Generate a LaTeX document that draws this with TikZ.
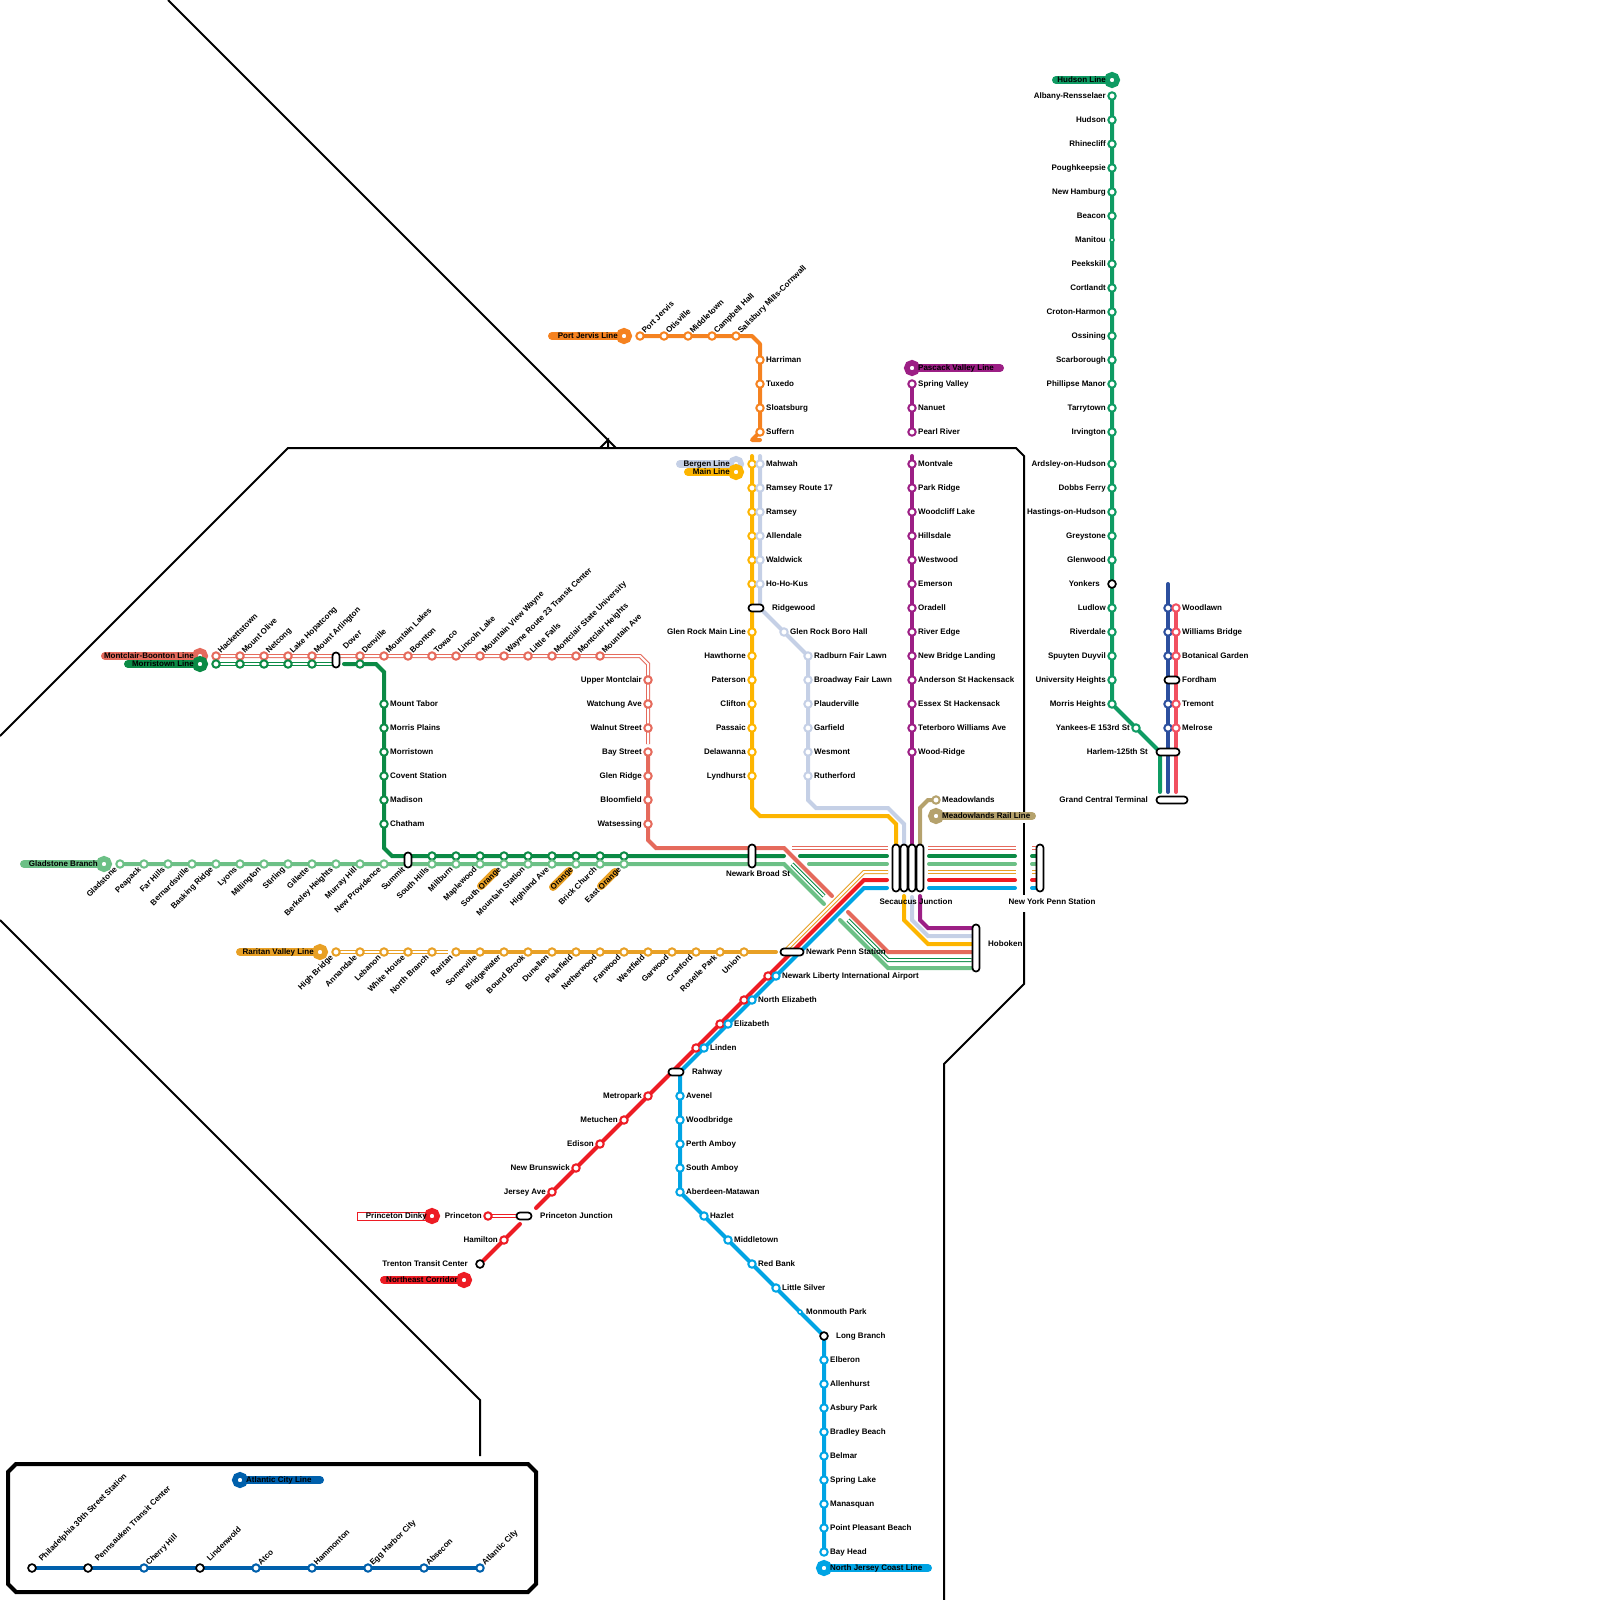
\documentclass[tikz,border=0pt]{standalone}
\usepackage{fontspec}
\setmainfont{Liberation Sans}
\pgfdeclarelayer{lines}
\pgfsetlayers{lines,main}
\definecolor{chud}{HTML}{0F9B63}
\definecolor{cmorr}{HTML}{0B8A45}
\definecolor{cglad}{HTML}{6CC086}
\definecolor{ccor}{HTML}{E56A5C}
\definecolor{crar}{HTML}{E8A025}
\definecolor{cpj}{HTML}{F58220}
\definecolor{cmain}{HTML}{FDB500}
\definecolor{cberg}{HTML}{C5D0E6}
\definecolor{cpas}{HTML}{9C1F85}
\definecolor{cmead}{HTML}{B5A26D}
\definecolor{cnec}{HTML}{ED1C24}
\definecolor{cnjc}{HTML}{00A4E4}
\definecolor{charl}{HTML}{2C4F9E}
\definecolor{cnh}{HTML}{F15060}
\definecolor{cac}{HTML}{0060AC}
\tikzset{
 sta/.style={circle,draw=#1,fill=white,line width=2pt,minimum size=7.4pt,inner sep=0pt},
 blk/.style={circle,draw=black,fill=white,line width=1.7pt,minimum size=7.8pt,inner sep=0pt},
 small/.style={circle,draw=#1,fill=white,line width=1.5pt,minimum size=4pt,inner sep=0pt},
 term/.style={circle,draw=#1,fill=white,line width=5.5pt,minimum size=10.5pt,inner sep=0pt},
 ic/.style={draw=black,fill=white,line width=1.7pt,rounded corners=3.3pt,inner sep=0pt,minimum width=#1},
 lab/.style={font=\fontsize{8}{9}\selectfont\bfseries,inner sep=0pt,text height=5.8pt,text depth=0pt,text=black,yshift=-0.8pt},
 labR/.style={lab,anchor=west},
 labL/.style={lab,anchor=east},
 labU/.style={lab,anchor=west,rotate=45},
 labD/.style={lab,anchor=east,rotate=45},
 ln/.style={draw=#1,line width=4pt,line cap=round},
 tag/.style={draw=#1,line width=8pt,line cap=round},
 dbl/.style={draw=#1,line width=1pt,double=white,double distance=2pt},
 river/.style={draw=black,line width=2pt},
}
\begin{document}
\begin{tikzpicture}[x=1pt,y=-1pt]
\useasboundingbox (0,0) rectangle (1600,1600);

% ---- Hudson
\node[term=chud] (hudT) at (1112,80) {};
\node[labL] (hudTl) at (1106,79) {Hudson Line};
\foreach \y/\t in {96/Albany-Rensselaer,120/Hudson,144/Rhinecliff,168/Poughkeepsie,192/New Hamburg,216/Beacon,264/Peekskill,288/Cortlandt,312/Croton-Harmon,336/Ossining,360/Scarborough,384/Phillipse Manor,408/Tarrytown,432/Irvington,464/Ardsley-on-Hudson,488/Dobbs Ferry,512/Hastings-on-Hudson,536/Greystone,560/Glenwood,608/Ludlow,632/Riverdale,656/Spuyten Duyvil,680/University Heights,704/Morris Heights}
 {\node[sta=chud] (hud\y) at (1112,\y) {}; \node[labL] (hudl\y) at (1106,\y-1) {\t};}
\node[small=chud] (hud240) at (1112,240) {};
\node[labL] (hudl240) at (1106,239) {Manitou};
\node[blk] (hud584) at (1112,584) {};
\node[labL] (hudl584) at (1100,583) {Yonkers};
\node[sta=chud] (yank) at (1136,728) {};
\node[labL] (yankl) at (1130,727) {Yankees-E 153rd St};

% ---- Harlem / New Haven
\foreach \y/\t in {608/Woodlawn,632/Williams Bridge,656/Botanical Garden,704/Tremont,728/Melrose}
 {\node[sta=charl] (har\y) at (1168,\y) {}; \node[sta=cnh] (nh\y) at (1176,\y) {}; \node[labR] (nhl\y) at (1182,\y-1) {\t};}
\node[ic=15pt,minimum height=7pt] (fordham) at (1172,680) {};
\node[labR] (fordhaml) at (1182,679) {Fordham};
\node[ic=23pt,minimum height=7pt] (harlem) at (1168,752) {};
\node[labL] (harleml) at (1148,751) {Harlem-125th St};
\node[ic=31pt,minimum height=7pt] (gct) at (1172,800) {};
\node[labL] (gctl) at (1148,799) {Grand Central Terminal};

% ---- Port Jervis
\node[term=cpj] (pjT) at (624,336) {};
\node[labL] (pjTl) at (618,335) {Port Jervis Line};
\foreach \x/\t in {640/Port Jervis,664/Otisville,688/Middletown,712/Campbell Hall,736/Salisbury Mills-Cornwall}
 {\node[sta=cpj] (pj\x) at (\x,336) {}; \node[labU] (pjl\x) at (\x+3,331.2) {\t};}
\foreach \y/\t in {360/Harriman,384/Tuxedo,408/Sloatsburg,432/Suffern}
 {\node[sta=cpj] (pj\y) at (760,\y) {}; \node[labR] (pjl\y) at (766,\y-1) {\t};}

% ---- Main / Bergen
\node[term=cberg] (bergT) at (736,464) {};
\node[labL] (bergTl) at (730,463) {Bergen Line};
\node[term=cmain] (mainT) at (736,472) {};
\node[labL] (mainTl) at (730,471) {Main Line};
\foreach \y/\t in {464/Mahwah,488/Ramsey Route 17,512/Ramsey,536/Allendale,560/Waldwick,584/Ho-Ho-Kus}
 {\node[sta=cmain] (main\y) at (752,\y) {}; \node[sta=cberg] (berg\y) at (760,\y) {}; \node[labR] (bergl\y) at (766,\y-1) {\t};}
\node[ic=15pt,minimum height=7pt] (ridge) at (756,608) {};
\node[labR] (ridgel) at (772,607) {Ridgewood};
\foreach \y/\t in {632/Glen Rock Main Line,656/Hawthorne,680/Paterson,704/Clifton,728/Passaic,752/Delawanna,776/Lyndhurst}
 {\node[sta=cmain] (main\y) at (752,\y) {}; \node[labL] (mainl\y) at (746,\y-1) {\t};}
\node[sta=cberg] (berg632) at (784,632) {};
\node[labR] (bergl632) at (790,631) {Glen Rock Boro Hall};
\foreach \y/\t in {656/Radburn Fair Lawn,680/Broadway Fair Lawn,704/Plauderville,728/Garfield,752/Wesmont,776/Rutherford}
 {\node[sta=cberg] (berg\y) at (808,\y) {}; \node[labR] (bergl\y) at (814,\y-1) {\t};}

% ---- Pascack
\node[term=cpas] (pasT) at (912,368) {};
\node[labR] (pasTl) at (918,367) {Pascack Valley Line};
\foreach \y/\t in {384/Spring Valley,408/Nanuet,432/Pearl River,464/Montvale,488/Park Ridge,512/Woodcliff Lake,536/Hillsdale,560/Westwood,584/Emerson,608/Oradell,632/River Edge,656/New Bridge Landing,680/Anderson St Hackensack,704/Essex St Hackensack,728/Teterboro Williams Ave,752/Wood-Ridge}
 {\node[sta=cpas] (pas\y) at (912,\y) {}; \node[labR] (pasl\y) at (918,\y-1) {\t};}

% ---- Meadowlands
\node[sta=cmead] (mead) at (936,800) {};
\node[labR] (meadl) at (942,799) {Meadowlands};
\node[term=cmead] (meadT) at (936,816) {};
\node[labR] (meadTl) at (942,815) {Meadowlands Rail Line};

% ---- Montclair-Boonton and Morristown
\node[term=ccor] (monT) at (200,656) {};
\node[labL] (monTl) at (194,655) {Montclair-Boonton Line};
\node[term=cmorr] (morT) at (200,664) {};
\node[labL] (morTl) at (194,663) {Morristown Line};
\foreach \x/\t in {216/Hackettstown,240/Mount Olive,264/Netcong,288/Lake Hopatcong,312/Mount Arlington}
 {\node[sta=ccor] (mon\x) at (\x,656) {}; \node[sta=cmorr] (mor\x) at (\x,664) {}; \node[labU] (monl\x) at (\x+3,651.2) {\t};}
\node[ic=7pt,minimum height=15pt] (dover) at (336,660) {};
\node[labU] (doverl) at (344,647) {Dover};
\foreach \x/\t in {360/Denville,384/Mountain Lakes,408/Boonton,432/Towaco,456/Lincoln Lake,480/Mountain View Wayne,504/Wayne Route 23 Transit Center,528/Little Falls,552/Montclair State University,576/Montclair Heights,600/Mountain Ave}
 {\node[sta=ccor] (mon\x) at (\x,656) {}; \node[labU] (monl\x) at (\x+3,651.2) {\t};}
\node[sta=cmorr] (mor360) at (360,664) {};
\foreach \y/\t in {680/Upper Montclair,704/Watchung Ave,728/Walnut Street,752/Bay Street,776/Glen Ridge,800/Bloomfield,824/Watsessing}
 {\node[sta=ccor] (monv\y) at (648,\y) {}; \node[labL] (monvl\y) at (642,\y-1) {\t};}
\foreach \y/\t in {704/Mount Tabor,728/Morris Plains,752/Morristown,776/Covent Station,800/Madison,824/Chatham}
 {\node[sta=cmorr] (morv\y) at (384,\y) {}; \node[labR] (morvl\y) at (390,\y-1) {\t};}

% ---- Gladstone
\node[term=cglad] (glaT) at (104,864) {};
\node[labL] (glaTl) at (98,863) {Gladstone Branch};
\foreach \x/\t in {120/Gladstone,144/Peapack,168/Far Hills,192/Bernardsville,216/Basking Ridge,240/Lyons,264/Millington,288/Stirling,312/Gillette,336/Berkeley Heights,360/Murray Hill,384/New Providence}
 {\node[sta=cglad] (gla\x) at (\x,864) {}; \node[labD] (glal\x) at (\x-4.5,867.2) {\t};}
\node[ic=7pt,minimum height=15pt] (summit) at (408,860) {};
\node[labD] (summitl) at (403.5,867.2) {Summit};
\foreach \x/\t in {432/South Hills,456/Millburn,480/Maplewood,504/South Orange,528/Mountain Station,552/Highland Ave,576/Orange,600/Brick Church,624/East Orange}
 {\node[sta=cmorr] (mor\x) at (\x,856) {}; \node[sta=cglad] (gla\x) at (\x,864) {}; \node[labD] (glal\x) at (\x-4.5,867.2) {\t};}
\node[ic=7pt,minimum height=23pt] (broad) at (752,856) {};
\node[lab] (broadl) at (758,873) {Newark Broad St};

% ---- Raritan
\node[term=crar] (rarT) at (320,952) {};
\node[labL] (rarTl) at (314,951) {Raritan Valley Line};
\foreach \x/\t in {336/High Bridge,360/Annandale,384/Lebanon,408/White House,432/North Branch,456/Raritan,480/Somerville,504/Bridgewater,528/Bound Brook,552/Dunellen,576/Plainfield,600/Netherwood,624/Fanwood,648/Westfield,672/Garwood,696/Cranford,720/Roselle Park,744/Union}
 {\node[sta=crar] (rar\x) at (\x,952) {}; \node[labD] (rarl\x) at (\x-4.5,955.2) {\t};}
\node[ic=23pt,minimum height=7pt] (npenn) at (792,952) {};
\node[labR] (npennl) at (806,951) {Newark Penn Station};

% ---- Secaucus, Hoboken, New York
\node[ic=7pt,minimum height=47pt] (sec1) at (896,868) {};
\node[ic=7pt,minimum height=47pt] (sec2) at (904,868) {};
\node[ic=7pt,minimum height=47pt] (sec3) at (912,868) {};
\node[ic=7pt,minimum height=47pt] (sec4) at (920,868) {};
\node[lab] (secl) at (916,900.5) {Secaucus Junction};
\node[ic=7pt,minimum height=47pt] (hob) at (976,948) {};
\node[labR] (hobl) at (988,942.5) {Hoboken};
\node[ic=7pt,minimum height=47pt] (nyp) at (1040,868) {};
\node[lab] (nypl) at (1052,900.5) {New York Penn Station};

% ---- Northeast Corridor and Coast
\foreach \x/\y/\t in {776/976/Newark Liberty International Airport,752/1000/North Elizabeth,728/1024/Elizabeth,704/1048/Linden}
 {\node[sta=cnec] (nec\y) at (\x-8,\y) {}; \node[sta=cnjc] (njc\y) at (\x,\y) {}; \node[labR] (njcl\y) at (\x+6,\y-1) {\t};}
\node[ic=15pt,minimum height=7pt] (rahway) at (676,1072) {};
\node[labR] (rahwayl) at (692,1071) {Rahway};
\foreach \x/\y/\t in {648/1096/Metropark,624/1120/Metuchen,600/1144/Edison,576/1168/New Brunswick,552/1192/Jersey Ave,504/1240/Hamilton}
 {\node[sta=cnec] (nec\y) at (\x,\y) {}; \node[labL] (necl\y) at (\x-6,\y-1) {\t};}
\node[ic=15pt,minimum height=7pt] (pjct) at (524,1216) {};
\node[labR] (pjctl) at (540,1215) {Princeton Junction};
\node[blk] (trenton) at (480,1264) {};
\node[labL] (trentonl) at (468,1263) {Trenton Transit Center};
\node[term=cnec] (necT) at (464,1280) {};
\node[labL] (necTl) at (458,1279) {Northeast Corridor};
\node[sta=cnec] (prin) at (488,1216) {};
\node[labL] (prinl) at (482,1215) {Princeton};
\node[term=cnec] (dinkT) at (432,1216) {};
\foreach \y/\t in {1096/Avenel,1120/Woodbridge,1144/Perth Amboy,1168/South Amboy,1192/Aberdeen-Matawan}
 {\node[sta=cnjc] (njc\y) at (680,\y) {}; \node[labR] (njcl\y) at (686,\y-1) {\t};}
\foreach \x/\y/\t in {704/1216/Hazlet,728/1240/Middletown,752/1264/Red Bank,776/1288/Little Silver}
 {\node[sta=cnjc] (njc\y) at (\x,\y) {}; \node[labR] (njcl\y) at (\x+6,\y-1) {\t};}
\node[small=cnjc] (njc1312) at (800,1312) {};
\node[labR] (njcl1312) at (806,1311) {Monmouth Park};
\node[blk] (njc1336) at (824,1336) {};
\node[labR] (njcl1336) at (836,1335) {Long Branch};
\foreach \y/\t in {1360/Elberon,1384/Allenhurst,1408/Asbury Park,1432/Bradley Beach,1456/Belmar,1480/Spring Lake,1504/Manasquan,1528/Point Pleasant Beach,1552/Bay Head}
 {\node[sta=cnjc] (njc\y) at (824,\y) {}; \node[labR] (njcl\y) at (830,\y-1) {\t};}
\node[term=cnjc] (njcT) at (824,1568) {};
\node[labR] (njcTl) at (830,1567) {North Jersey Coast Line};

% ---- Atlantic City
\node[term=cac] (acT) at (240,1480) {};
\node[labR] (acTl) at (246,1479) {Atlantic City Line};
\foreach \x/\t in {32/Philadelphia 30th Street Station,88/Pennsauken Transit Center,200/Lindenwold}
 {\node[blk] (ac\x) at (\x,1568) {}; \node[labU] (acl\x) at (\x+8,1559.2) {\t};}
\foreach \x/\t in {144/Cherry Hill,256/Atco,312/Hammonton,368/Egg Harbor City,424/Absecon,480/Atlantic City}
 {\node[sta=cac] (ac\x) at (\x,1568) {}; \node[labU] (acl\x) at (\x+3,1563.2) {\t};}

% ==== lines and name tags, below everything above
\begin{pgfonlayer}{lines}
% river and frame
\draw[river] (168,0)--(616,448);
\draw[river] (600,448)--(608,440)--(608,448);
\draw[river] (0,736)--(288,448)--(1016,448)--(1024,456)--(1024,817);
\draw[river] (1024,823)--(1024,895);
\draw[river] (1024,912)--(1024,984)--(944,1064)--(944,1600);
\draw[river] (0,920)--(480,1400)--(480,1456);
\draw[line width=4pt,draw=black,line join=miter] (16,1464)--(528,1464)--(536,1472)--(536,1584)--(528,1592)--(16,1592)--(8,1584)--(8,1472)--cycle;

% name tags
\coordinate (hudE) at (1056,80);
\draw[tag=chud] (hudT.center)--(hudE);
\coordinate (pjE) at (552,336);
\draw[tag=cpj] (pjT.center)--(pjE);
\coordinate (bergE) at (680,464);
\draw[tag=cberg] (bergT.center)--(bergE);
\coordinate (mainE) at (688,472);
\draw[tag=cmain] (mainT.center)--(mainE);
\coordinate (pasE) at (1000,368);
\draw[tag=cpas] (pasT.center)--(pasE);
\coordinate (meadE) at (1032,816);
\draw[tag=cmead] (meadT.center)--(meadE);
\coordinate (monE) at (105,656);
\draw[tag=ccor] (monT.center)--(monE);
\coordinate (morE) at (128,664);
\draw[tag=cmorr] (morT.center)--(morE);
\coordinate (glaE) at (24,864);
\draw[tag=cglad] (glaT.center)--(glaE);
\coordinate (rarE) at (240,952);
\draw[tag=crar] (rarT.center)--(rarE);
\coordinate (necE) at (384,1280);
\draw[tag=cnec] (necT.center)--(necE);
\coordinate (njcE) at (928,1568);
\draw[tag=cnjc] (njcT.center)--(njcE);
\coordinate (acE) at (320,1480);
\draw[tag=cac] (acT.center)--(acE);
\draw[crar,line width=8pt,line cap=round] (481,886)--(495,872);
\draw[crar,line width=8pt,line cap=round] (553,887)--(569,871);
\draw[crar,line width=8pt,line cap=round] (601,886)--(615,872);

% Hudson
\coordinate (hudA) at (1160,752);
\coordinate (hudB) at (1160,792);
\draw[ln=chud] (hud96.center)--(hud704.center)--(yank.center)--(hudA)--(hudB);
% Harlem, New Haven
\coordinate (harT) at (1168,584);
\coordinate (harB) at (1168,792);
\draw[ln=charl] (harT)--(harB);
\coordinate (nhB) at (1176,792);
\draw[ln=cnh] (nh608.center)--(nhB);
% Port Jervis
\coordinate (pjA) at (752,336);
\coordinate (pjB) at (760,344);
\coordinate (pjC) at (752,440);
\coordinate (pjD) at (760,440);
\draw[ln=cpj,line join=round] (pj640.center)--(pjA)--(pjB)--(pj432.center)--(pjC)--(pjD);
% Main
\coordinate (mainS) at (752,456);
\coordinate (mainA) at (752,808);
\coordinate (mainB) at (760,816);
\coordinate (mainC) at (888,816);
\coordinate (mainD) at (896,824);
\draw[ln=cmain] (mainS)--(mainA)--(mainB)--(mainC)--(mainD)--(sec1.north);
\coordinate (mainE1) at (904,896);
\coordinate (mainE2) at (904,920);
\coordinate (mainE3) at (928,944);
\draw[ln=cmain] (mainE1)--(mainE2)--(mainE3)--(hob.west |- mainE3);
% Bergen
\coordinate (bergS) at (760,456);
\coordinate (bergR) at (760,608);
\coordinate (bergA) at (808,800);
\coordinate (bergB) at (816,808);
\coordinate (bergC) at (888,808);
\coordinate (bergD) at (904,824);
\draw[ln=cberg] (bergS)--(bergR)--(berg632.center)--(berg656.center)--(bergA)--(bergB)--(bergC)--(bergD)--(sec2.north);
\coordinate (bergE1) at (912,897);
\coordinate (bergE2) at (912,920);
\coordinate (bergE3) at (928,936);
\draw[ln=cberg] (bergE1)--(bergE2)--(bergE3)--(hob.west |- bergE3);
% Pascack
\draw[ln=cpas] (pas384.center)--(pas432.center);
\coordinate (pasS) at (912,456);
\draw[ln=cpas] (pasS)--(sec3.north);
\coordinate (pasE1) at (920,896);
\coordinate (pasE2) at (920,920);
\coordinate (pasE3) at (928,928);
\draw[ln=cpas] (pasE1)--(pasE2)--(pasE3)--(hob.west |- pasE3);
% Meadowlands
\coordinate (meadA) at (920,808);
\coordinate (meadB) at (928,800);
\draw[ln=cmead] (sec4.north)--(meadA)--(meadB)--(mead.center);
% Montclair
\coordinate (monA) at (640,656);
\coordinate (monB) at (648,664);
\coordinate (monC) at (648,744);
\draw[dbl=ccor] (mon216.center)--(monA)--(monB)--(monC);
\coordinate (monD) at (648,840);
\coordinate (monF) at (656,848);
\coordinate (monG) at (784,848);
\coordinate (monH) at (832,896);
\draw[ln=ccor] (monv752.center)--(monD)--(monF)--(monG)--(monH);
\coordinate (monI) at (848,912);
\coordinate (monJ) at (888,952);
\draw[ln=ccor] (monI)--(monJ)--(hob.west |- monJ);
\coordinate (monK) at (792,848);
\coordinate (monL) at (888,848);
\draw[dbl=ccor] (monK)--(monL);
\coordinate (monM) at (928,848);
\coordinate (monN) at (1016,848);
\draw[dbl=ccor] (monM)--(monN);
\coordinate (monO) at (1032,848);
\draw[dbl=ccor] (monO)--(nyp.west |- monO);
% Morristown
\draw[dbl=cmorr] (mor216.center)--(dover.west |- mor216);
\coordinate (morA) at (344,664);
\coordinate (morB) at (376,664);
\coordinate (morC) at (384,672);
\coordinate (morD) at (384,848);
\coordinate (morF) at (392,856);
\coordinate (morG) at (784,856);
\draw[ln=cmorr] (morA)--(morB)--(morC)--(morD)--(morF)--(morG);
\coordinate (morH) at (792,864);
\coordinate (morI) at (824,896);
\draw[dbl=cmorr] (morH)--(morI);
\coordinate (morJ) at (848,920);
\coordinate (morK) at (888,960);
\draw[dbl=cmorr] (morJ)--(morK)--(hob.west |- morK);
\coordinate (morL) at (800,856);
\coordinate (morM) at (887,856);
\draw[ln=cmorr] (morL)--(morM);
\coordinate (morN) at (929,856);
\coordinate (morO) at (1015,856);
\draw[ln=cmorr] (morN)--(morO);
\coordinate (morP) at (1032,856);
\draw[ln=cmorr] (morP)--(nyp.center |- morP);
% Gladstone
\coordinate (glaA) at (784,864);
\coordinate (glaB) at (824,904);
\draw[ln=cglad] (gla120.center)--(glaA)--(glaB);
\coordinate (glaC) at (840,920);
\coordinate (glaD) at (888,968);
\draw[ln=cglad] (glaC)--(glaD)--(hob.west |- glaD);
\coordinate (glaF) at (809,864);
\coordinate (glaG) at (887,864);
\draw[ln=cglad] (glaF)--(glaG);
\coordinate (glaH) at (929,864);
\coordinate (glaI) at (1015,864);
\draw[ln=cglad] (glaH)--(glaI);
\coordinate (glaJ) at (1032,864);
\draw[ln=cglad] (glaJ)--(nyp.center |- glaJ);
% Raritan
\coordinate (rarA) at (448,952);
\draw[dbl=crar] (rar336.center)--(rarA);
\coordinate (rarB) at (776,952);
\draw[ln=crar] (rar456.center)--(rarB);
\coordinate (rarC) at (784,952);
\coordinate (rarD) at (864,872);
\coordinate (rarF) at (888,872);
\draw[dbl=crar] (rarC)--(rarD)--(rarF);
\coordinate (rarG) at (928,872);
\coordinate (rarH) at (1016,872);
\draw[dbl=crar] (rarG)--(rarH);
\coordinate (rarI) at (1032,872);
\draw[dbl=crar] (rarI)--(nyp.west |- rarI);
% Northeast Corridor
\coordinate (necA) at (864,880);
\coordinate (necB) at (887,880);
\coordinate (necC) at (536,1208);
\draw[ln=cnec] (necB)--(necA)--(necC);
\coordinate (necF) at (520,1224);
\draw[ln=cnec] (necF)--(trenton.center);
\coordinate (necG) at (929,880);
\coordinate (necH) at (1015,880);
\draw[ln=cnec] (necG)--(necH);
\coordinate (necI) at (1032,880);
\draw[ln=cnec] (necI)--(nyp.center |- necI);
% Princeton Dinky
\draw[draw=cnec,line width=1pt,fill=white] (357,1212) rectangle (428,1220);
\draw[dbl=cnec] (prin.center)--(pjct.west);
% NJ Coast
\coordinate (njcA) at (864,888);
\coordinate (njcB) at (887,888);
\coordinate (njcC) at (680,1072);
\draw[ln=cnjc] (njcB)--(njcA)--(njcC)--(njc1192.center)--(njc1336.center)--(njc1552.center);
\coordinate (njcF) at (929,888);
\coordinate (njcG) at (1015,888);
\draw[ln=cnjc] (njcF)--(njcG);
\coordinate (njcH) at (1032,888);
\draw[ln=cnjc] (njcH)--(nyp.center |- njcH);
% Atlantic City
\draw[ln=cac] (ac32.center)--(ac480.center);
\end{pgfonlayer}

\node[labL] (dinkTl) at (427,1215) {Princeton Dinky};
\end{tikzpicture}
\end{document}
